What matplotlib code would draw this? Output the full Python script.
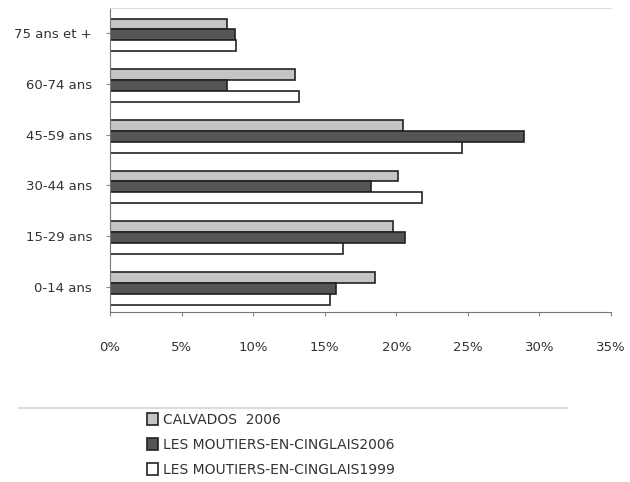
import numpy as np
import matplotlib.pyplot as plt

categories = ['0-14 ans', '15-29 ans', '30-44 ans', '45-59 ans', '60-74 ans', '75 ans et +']
calvados_2006 = [18.5, 19.8, 20.1, 20.5, 12.9, 8.2]
moutiers_2006 = [15.8, 20.6, 18.2, 28.9, 8.2, 8.7]
moutiers_1999 = [15.4, 16.3, 21.8, 24.6, 13.2, 8.8]
series_labels = ['CALVADOS  2006', 'LES MOUTIERS-EN-CINGLAIS2006', 'LES MOUTIERS-EN-CINGLAIS1999']
x_ticks = [0, 5, 10, 15, 20, 25, 30, 35]

plt.rcParams['font.family'] = ['DejaVu Sans']

fig = plt.figure(figsize=(6.3, 4.82), dpi=100)
ax = fig.add_axes([0.1746, 0.3527, 0.7952, 0.6307])

y = np.arange(len(categories))
h = 0.215
off = -0.03
ax.barh(y + h + off, calvados_2006, height=h, color='#c4c4c4', edgecolor='#222222', linewidth=1.2, label=series_labels[0])
ax.barh(y + off, moutiers_2006, height=h, color='#555555', edgecolor='#222222', linewidth=1.2, label=series_labels[1])
ax.barh(y - h + off, moutiers_1999, height=h, color='white', edgecolor='#222222', linewidth=1.2, label=series_labels[2])

ax.set_xlim(0, 35)
ax.set_ylim(-0.5, len(categories) - 0.5)
ax.set_yticks(y)
ax.set_yticklabels(categories, fontsize=9.5, color='#333333')
ax.set_xticks(x_ticks)
ax.set_xticklabels([f'{t}%' for t in x_ticks], fontsize=9.5, color='#333333')
ax.tick_params(axis='x', length=3, pad=18, color='#888888')
ax.tick_params(axis='y', length=3, pad=10, color='#888888')

ax.spines['right'].set_visible(False)
ax.spines['top'].set_color('#dddddd')
ax.spines['left'].set_color('#777777')
ax.spines['bottom'].set_color('#777777')

# legend frame (only a faint top line in the scan)
fig.add_artist(plt.Line2D([0.03, 0.9], [1 - 408 / 482] * 2, color='#dddddd', linewidth=1.5))
leg = fig.legend(loc='upper left', bbox_to_anchor=(0.225, 1 - 407 / 482), frameon=False,
                 fontsize=10, handlelength=0.8, handleheight=0.9, handletextpad=0.3,
                 labelspacing=0.8, borderaxespad=0)
for t in leg.get_texts():
    t.set_color('#333333')

fig.savefig('out.png', dpi=100)
